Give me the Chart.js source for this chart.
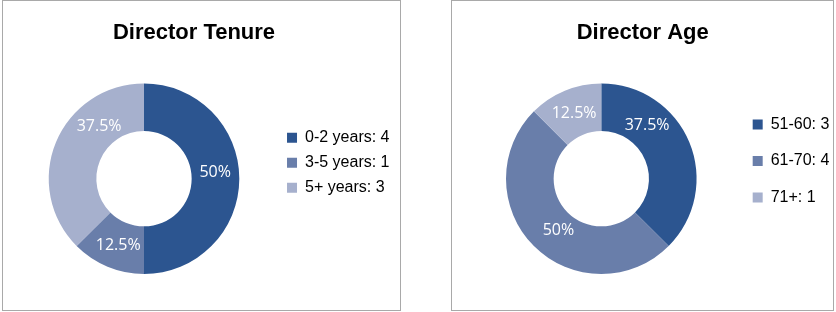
<!DOCTYPE html>
<html>
<head>
<meta charset="utf-8">
<script src="https://cdn.jsdelivr.net/npm/chart.js@4"></script>
<style>
  html, body { margin: 0; padding: 0; background: #ffffff; overflow: hidden; width: 836px; height: 312px; }
  .panel { position: absolute; top: 0; border: 1px solid #a9a9a9; box-sizing: border-box; height: 311px; }
  #p1 { left: 2px; width: 399px; }
  #p2 { left: 451px; width: 383px; }
  canvas { position: absolute; left: 0; top: 0; }
</style>
</head>
<body>
<div class="panel" id="p1"><canvas id="c1" width="397" height="309" style="width:397px;height:309px"></canvas></div>
<div class="panel" id="p2"><canvas id="c2" width="388" height="309" style="width:388px;height:309px"></canvas></div>
<script>
// ---- data ----
const tenureTitle = 'Director Tenure';
const tenureCategories = ['0-2 years', '3-5 years', '5+ years'];
const tenureCounts = [4, 1, 3];

const ageTitle = 'Director Age';
const ageCategories = ['51-60', '61-70', '71+'];
const ageCounts = [3, 4, 1];

const sliceColors = ['#2c5590', '#697eaa', '#a6b0cd'];

// ---- plugins ----
function formatPct(v) { return Number(v.toFixed(1)) + '%'; }

const sliceLabels = {
  id: 'sliceLabels',
  afterDatasetsDraw(chart, args, opts) {
    const ctx = chart.ctx;
    const ds = chart.data.datasets[0];
    const total = ds.data.reduce((a, b) => a + b, 0);
    const meta = chart.getDatasetMeta(0);
    ctx.save();
    ctx.font = opts.font;
    ctx.fillStyle = opts.color;
    ctx.textAlign = 'center';
    ctx.textBaseline = 'middle';
    meta.data.forEach((arc, i) => {
      const p = arc.getProps(['x', 'y', 'startAngle', 'endAngle', 'innerRadius', 'outerRadius'], true);
      const a = p.startAngle + opts.angleFraction[i] * (p.endAngle - p.startAngle);
      const r = p.innerRadius + opts.radiusFraction[i] * (p.outerRadius - p.innerRadius);
      ctx.fillText(formatPct(ds.data[i] / total * 100), p.x + r * Math.cos(a), p.y + r * Math.sin(a));
    });
    ctx.restore();
  }
};

const titleNudge = {
  id: 'titleNudge',
  afterLayout(chart, args, opts) {
    const t = chart.titleBlock;
    if (t && opts.dx) { t.left += opts.dx; t.right += opts.dx; }
  }
};

Chart.defaults.font.family = "'Liberation Sans', Arial, sans-serif";
Chart.defaults.color = '#000000';

function legendLabels(chart) {
  const base = Chart.overrides.doughnut.plugins.legend.labels.generateLabels(chart);
  const values = chart.data.datasets[0].data;
  return base.map((item, i) => Object.assign(item, { text: item.text + ': ' + values[i], lineWidth: 0 }));
}

function makeChart(id, title, categories, counts, cfg) {
  return new Chart(document.getElementById(id), {
    type: 'doughnut',
    data: {
      labels: categories,
      datasets: [{
        data: counts,
        backgroundColor: sliceColors,
        borderWidth: 0,
        hoverOffset: 0
      }]
    },
    options: {
      responsive: false,
      animation: false,
      cutout: '50%',
      layout: { padding: { top: 0, bottom: 36, left: cfg.padLeft, right: cfg.padRight } },
      plugins: {
        title: {
          display: true,
          text: title,
          color: '#000000',
          font: { size: 22, weight: 'bold' },
          padding: { top: 18.8, bottom: 37.2 }
        },
        legend: {
          position: 'right',
          align: 'center',
          title: { display: true, text: '', font: { size: 12 }, padding: { top: cfg.legendTop, bottom: 0 } },
          labels: {
            boxWidth: 10,
            boxHeight: 10,
            padding: cfg.itemPad,
            color: '#000000',
            font: { size: 16 },
            generateLabels: legendLabels
          }
        },
        tooltip: { enabled: false },
        sliceLabels: {
          font: "16px 'Open Sans', 'Noto Sans', sans-serif",
          color: '#ffffff',
          angleFraction: cfg.angleFraction,
          radiusFraction: cfg.radiusFraction
        },
        titleNudge: { dx: cfg.titleDx }
      }
    },
    plugins: [sliceLabels, titleNudge]
  });
}

makeChart('c1', tenureTitle, tenureCategories, tenureCounts, {
  padLeft: 7, padRight: 0.5, itemPad: 9, legendTop: 36, titleDx: -10.75,
  angleFraction: [0.47, 0.47, 0.7], radiusFraction: [0.5, 0.5, 0.45]
});
makeChart('c2', ageTitle, ageCategories, ageCounts, {
  padLeft: 18.4, padRight: 0.6, itemPad: 20.5, legendTop: 32.6, titleDx: -12.2,
  angleFraction: [0.3, 0.47, 0.5], radiusFraction: [0.48, 0.41, 0.49]
});
</script>
</body>
</html>
